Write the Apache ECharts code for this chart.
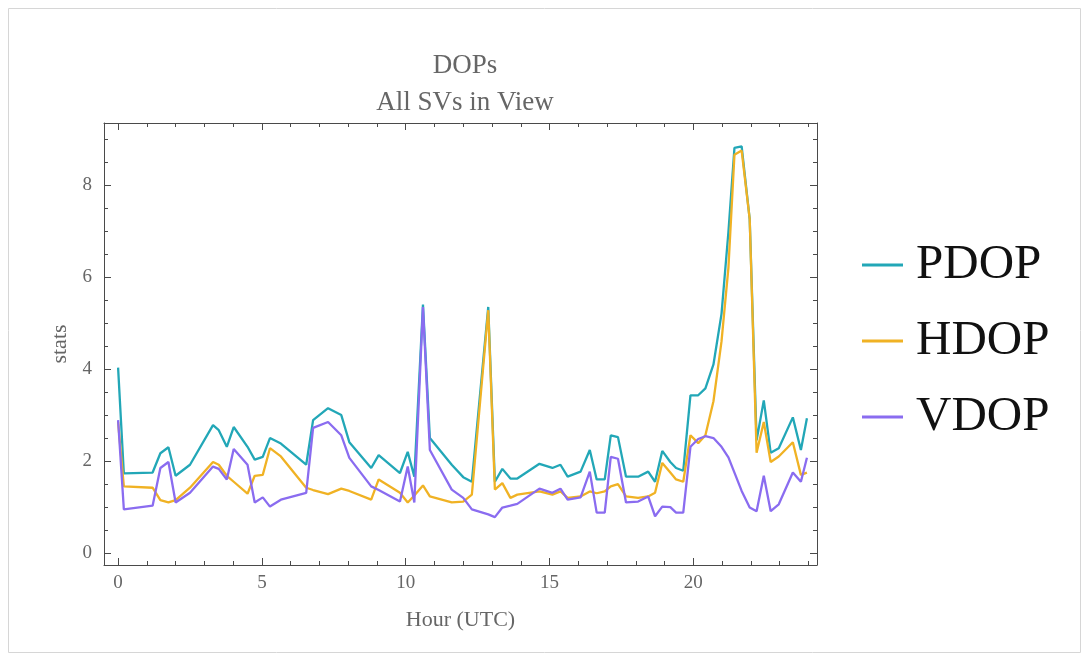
<!DOCTYPE html>
<html>
<head>
<meta charset="utf-8">
<script src="https://cdn.jsdelivr.net/npm/echarts@6/dist/echarts.min.js"></script>
<style>
html,body{margin:0;padding:0;background:#fff;}
#c{width:1089px;height:659px;}
</style>
</head>
<body>
<div id="c"></div>
<script>
// ---- data ----
var seriesNames = ['PDOP', 'HDOP', 'VDOP'];
var hours = [0.0, 0.2, 1.2, 1.47, 1.75, 2.0, 2.5, 3.3, 3.5, 3.78, 4.02, 4.5, 4.75, 5.03, 5.28, 5.66,
  6.54, 6.78, 7.3, 7.76, 8.04, 8.8, 9.06, 9.8, 10.07, 10.3, 10.6, 10.84, 11.6, 12.0, 12.3, 12.87,
  13.1, 13.36, 13.64, 13.88, 14.65, 15.1, 15.38, 15.63, 16.08, 16.4, 16.64, 16.92, 17.13, 17.38,
  17.66, 18.08, 18.43, 18.67, 18.92, 19.2, 19.4, 19.65, 19.9, 20.17, 20.42, 20.7, 20.98, 21.22,
  21.43, 21.68, 21.96, 22.2, 22.45, 22.69, 22.97, 23.46, 23.74, 23.95];
var pdop = [4.03, 1.73, 1.75, 2.17, 2.3, 1.68, 1.92, 2.78, 2.67, 2.31, 2.74, 2.31, 2.03, 2.09, 2.5, 2.38,
  1.92, 2.89, 3.15, 3.0, 2.41, 1.85, 2.13, 1.74, 2.2, 1.66, 5.4, 2.5, 1.92, 1.65, 1.55, 5.35,
  1.55, 1.83, 1.62, 1.62, 1.94, 1.85, 1.92, 1.66, 1.77, 2.24, 1.6, 1.6, 2.56, 2.52,
  1.66, 1.66, 1.77, 1.55, 2.22, 1.98, 1.85, 1.79, 3.43, 3.43, 3.58, 4.1, 5.2, 6.98,
  8.81, 8.84, 7.26, 2.45, 3.32, 2.18, 2.28, 2.95, 2.24, 2.93];
var hdop = [2.85, 1.45, 1.42, 1.15, 1.1, 1.15, 1.42, 1.98, 1.92, 1.68, 1.55, 1.29, 1.68, 1.7, 2.28, 2.1,
  1.42, 1.37, 1.28, 1.4, 1.35, 1.16, 1.6, 1.31, 1.1, 1.25, 1.47, 1.23, 1.1, 1.12, 1.27, 5.28,
  1.38, 1.52, 1.2, 1.27, 1.34, 1.27, 1.34, 1.2, 1.23, 1.34, 1.3, 1.34, 1.45, 1.5,
  1.23, 1.2, 1.23, 1.31, 1.96, 1.75, 1.6, 1.55, 2.56, 2.39, 2.56, 3.3, 4.6, 6.2,
  8.66, 8.75, 7.26, 2.18, 2.85, 1.98, 2.1, 2.41, 1.7, 1.75];
var vdop = [2.89, 0.95, 1.03, 1.85, 1.98, 1.1, 1.31, 1.88, 1.83, 1.6, 2.26, 1.92, 1.1, 1.21, 1.01, 1.16,
  1.31, 2.72, 2.85, 2.56, 2.07, 1.45, 1.37, 1.12, 1.88, 1.1, 5.35, 2.24, 1.38, 1.2, 0.95, 0.84,
  0.78, 0.99, 1.03, 1.07, 1.4, 1.31, 1.4, 1.16, 1.21, 1.77, 0.88, 0.88, 2.09, 2.05,
  1.1, 1.12, 1.23, 0.8, 1.01, 1.0, 0.88, 0.88, 2.31, 2.48, 2.54, 2.5, 2.31, 2.08,
  1.75, 1.35, 0.99, 0.91, 1.68, 0.91, 1.06, 1.75, 1.55, 2.07];
var xMajorTicks = [0, 5, 10, 15, 20];
var xMinorTicks = [1, 2, 3, 4, 6, 7, 8, 9, 11, 12, 13, 14, 16, 17, 18, 19, 21, 22, 23, 24];
var yMajorTicks = [0, 2, 4, 6, 8];
var yMinorTicks = [0.5, 1, 1.5, 2.5, 3, 3.5, 4.5, 5, 5.5, 6.5, 7, 7.5, 8.5, 9];
var titleText = 'DOPs';
var subtitleText = 'All SVs in View';
var xName = 'Hour (UTC)';
var yName = 'stats';

// ---- styling ----
var colors = ['#22a7b7', '#f0b224', '#8a6cf0'];
var frameColor = '#4a4a4a';
var labelColor = '#666';
var serif = 'Liberation Serif';
var xMin = -0.49, xMax = 24.3, yMin = -0.26, yMax = 9.35;

function xAx(pos, ticks, len, showLabel, showLine, extra) {
  var a = {
    type: 'value', position: pos, min: xMin, max: xMax,
    splitLine: { show: false },
    axisLine: { show: showLine, onZero: false, lineStyle: { color: frameColor, width: 1 } },
    axisTick: { show: true, inside: true, length: len, customValues: ticks, lineStyle: { color: frameColor, width: 1 } },
    axisLabel: { show: showLabel, customValues: ticks, color: labelColor, fontFamily: serif, fontSize: 19, margin: 9 }
  };
  for (var k in extra) a[k] = extra[k];
  return a;
}
function yAx(pos, ticks, len, showLabel, showLine, extra) {
  var a = {
    type: 'value', position: pos, min: yMin, max: yMax,
    splitLine: { show: false },
    axisLine: { show: showLine, onZero: false, lineStyle: { color: frameColor, width: 1 } },
    axisTick: { show: true, inside: true, length: len, customValues: ticks, lineStyle: { color: frameColor, width: 1 } },
    axisLabel: { show: showLabel, customValues: ticks, color: labelColor, fontFamily: serif, fontSize: 19, margin: 12 }
  };
  for (var k in extra) a[k] = extra[k];
  return a;
}

var valueLists = [pdop, hdop, vdop];
var series = seriesNames.map(function (n, si) {
  return {
    name: n, type: 'line', xAxisIndex: 0, yAxisIndex: 0,
    showSymbol: false, symbol: 'none', smooth: false,
    lineStyle: { width: 2.3, color: colors[si] },
    itemStyle: { color: colors[si] },
    data: hours.map(function (h, i) { return [h, valueLists[si][i]]; })
  };
});

var chart = echarts.init(document.getElementById('c'));
chart.setOption({
  animation: false,
  backgroundColor: '#fff',
  title: [
    { text: titleText, left: 460, top: 47, textAlign: 'center',
      textStyle: { fontFamily: serif, fontWeight: 'normal', fontSize: 27, color: '#666' } },
    { text: subtitleText, left: 460, top: 84, textAlign: 'center',
      textStyle: { fontFamily: serif, fontWeight: 'normal', fontSize: 27, color: '#666' } }
  ],
  legend: {
    orient: 'vertical', left: 857, top: 235,
    icon: 'rect', itemWidth: 41, itemHeight: 3, itemGap: 26,
    data: seriesNames,
    textStyle: { fontFamily: 'Liberation Serif', fontSize: 49, color: '#111', lineHeight: 50, padding: [0, 0, 0, 8] }
  },
  grid: { left: 104, right: 272, top: 123, bottom: 94, containLabel: false },
  xAxis: [
    xAx('bottom', xMajorTicks, 7, true, true, { name: xName, nameLocation: 'middle', nameGap: 44,
      nameTextStyle: { fontFamily: serif, fontSize: 22, color: '#666' } }),
    xAx('bottom', xMinorTicks, 4, false, false, {}),
    xAx('top', xMajorTicks, 7, false, true, {}),
    xAx('top', xMinorTicks, 4, false, false, {})
  ],
  yAxis: [
    yAx('left', yMajorTicks, 7, true, true, { name: yName, nameLocation: 'middle', nameGap: 33,
      nameTextStyle: { fontFamily: serif, fontSize: 22, color: '#666' } }),
    yAx('left', yMinorTicks, 4, false, false, {}),
    yAx('right', yMajorTicks, 7, false, true, {}),
    yAx('right', yMinorTicks, 4, false, false, {})
  ],
  graphic: [
    { type: 'rect', shape: { x: 8.5, y: 8.5, width: 1072, height: 644 }, silent: true,
      style: { fill: 'none', stroke: '#d6d6d6', lineWidth: 1 } }
  ],
  series: series
});
</script>
</body>
</html>
